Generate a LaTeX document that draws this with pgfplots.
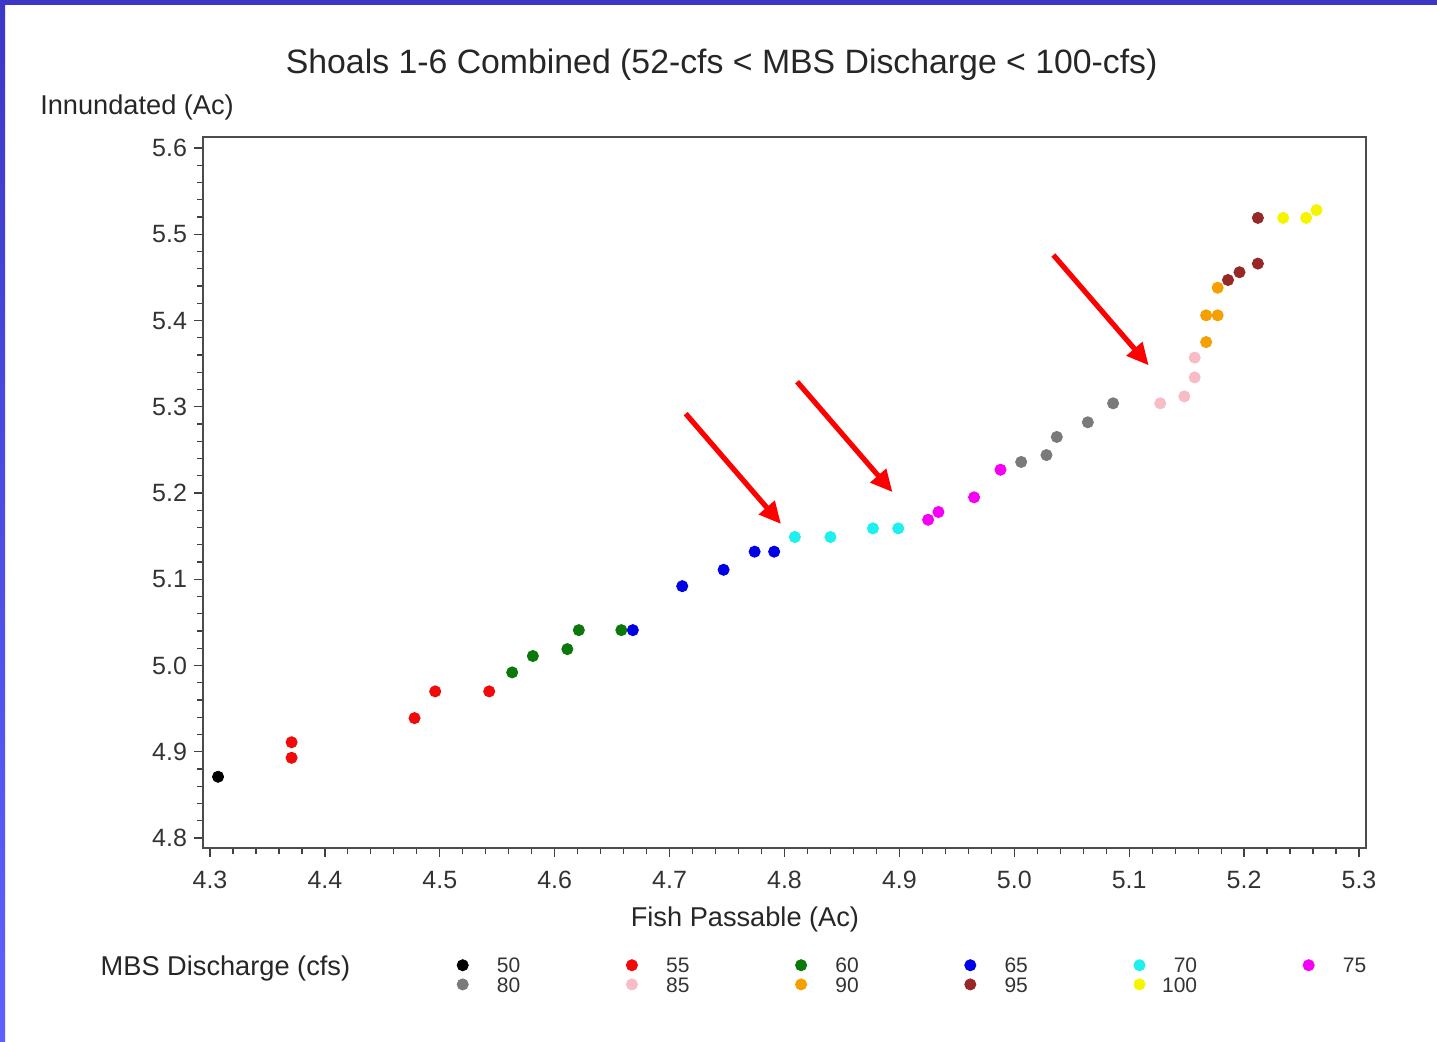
\documentclass[border=0pt]{standalone}
\usepackage{pgfplots}
\pgfplotsset{compat=1.18}
\usepackage{fontspec}
\setmainfont{Liberation Sans}
\usetikzlibrary{arrows.meta}

\definecolor{c50}{HTML}{000000}
\definecolor{c55}{HTML}{F00A0A}
\definecolor{c60}{HTML}{0A780A}
\definecolor{c65}{HTML}{0000E6}
\definecolor{c70}{HTML}{1EF0F0}
\definecolor{c75}{HTML}{F500F5}
\definecolor{c80}{HTML}{7A7A7A}
\definecolor{c85}{HTML}{F7BCC6}
\definecolor{c90}{HTML}{F5A000}
\definecolor{c95}{HTML}{962828}
\definecolor{c100}{HTML}{F5F500}
\definecolor{frameblue}{HTML}{3B38C8}

\pgfplotsset{dot/.style={only marks, mark=*, mark size=2.8pt, color=#1, mark options={solid, draw=#1, fill=#1}}}

\begin{document}
\begin{tikzpicture}
% whole slide area, 1 px = 0.5pt
\path[use as bounding box] (0,0) rectangle (718.5pt,520.5pt);
\fill[frameblue] (0,518pt) rectangle (718.5pt,520.5pt);
\shade[top color=frameblue, bottom color={rgb,255:red,96;green,96;blue,255}] (0,0) rectangle (2.5pt,520.5pt);

\begin{axis}[
    at={(101.5pt,96.5pt)}, anchor=south west,
    scale only axis,
    width=581.5pt, height=355.5pt,
    clip=false,
    xmin=4.2939, xmax=5.3061,
    ymin=4.7884, ymax=5.6128,
    xtick={4.3,4.4,...,5.31},
    ytick={4.8,4.9,...,5.61},
    minor tick num=4,
    tick align=outside,
    major tick length=4.5pt,
    minor tick length=3pt,
    tick style={color=black!75, line width=0.6pt},
    axis line style={black!70, line width=0.6pt},
    xtick pos=bottom, ytick pos=left,
    font=\fontsize{12.5}{14}\selectfont,
    ticklabel style={text=black!80},
    xticklabel style={yshift=-3.5pt},
    /pgf/number format/assume math mode=true,
    /pgf/number format/fixed,
    /pgf/number format/fixed zerofill,
    /pgf/number format/precision=1,
    title={Shoals 1-6 Combined (52-cfs < MBS Discharge < 100-cfs)},
    title style={at={(axis description cs:0.446,1.085)}, anchor=center, font=\fontsize{16.9}{19}\selectfont, text=black!85},
    xlabel={Fish Passable (Ac)},
    xlabel style={at={(axis description cs:0.466,-0.101)}, anchor=center, font=\fontsize{13.6}{15}\selectfont, text=black!85},
    ylabel={Innundated (Ac)},
    ylabel style={at={(axis description cs:-0.146,1.042)}, anchor=west, rotate=-90, font=\fontsize{13.6}{15}\selectfont, text=black!85},
    legend columns=6,
    legend style={draw=none, fill=none,
        at={(axis description cs:0.213,-0.148)}, anchor=north west,
        font=\fontsize{10.5}{10.5}\selectfont,
        nodes={inner sep=0pt, text height=7.6pt, text depth=0pt, text=black!80},
        row sep=2pt,
        /tikz/every even column/.append style={column sep=53pt}},
    legend image code/.code={\draw[mark repeat=2,mark phase=2,#1] plot coordinates {(0pt,0pt)(4pt,0pt)(8pt,0pt)};},
]
\addplot[dot=c50] coordinates {(4.307,4.871)};
\addlegendentry{\makebox[26pt][r]{50}}
\addplot[dot=c55] coordinates {
    (4.371,4.911) (4.371,4.893) (4.478,4.939) (4.496,4.970) (4.543,4.970)};
\addlegendentry{\makebox[26pt][r]{55}}
\addplot[dot=c60] coordinates {
    (4.563,4.992) (4.581,5.011) (4.611,5.019) (4.621,5.041) (4.658,5.041)};
\addlegendentry{\makebox[26pt][r]{60}}
\addplot[dot=c65] coordinates {
    (4.668,5.041) (4.711,5.092) (4.747,5.111) (4.774,5.132) (4.791,5.132)};
\addlegendentry{\makebox[26pt][r]{65}}
\addplot[dot=c70] coordinates {
    (4.809,5.149) (4.840,5.149) (4.877,5.159) (4.899,5.159)};
\addlegendentry{\makebox[26pt][r]{70}}
\addplot[dot=c75] coordinates {
    (4.925,5.169) (4.934,5.178) (4.965,5.195) (4.988,5.227)};
\addlegendentry{\makebox[26pt][r]{75}}
\addplot[dot=c80] coordinates {
    (5.006,5.236) (5.028,5.244) (5.037,5.265) (5.064,5.282) (5.086,5.304)};
\addlegendentry{\makebox[26pt][r]{80}}
\addplot[dot=c85] coordinates {
    (5.127,5.304) (5.148,5.312) (5.157,5.334) (5.157,5.357)};
\addlegendentry{\makebox[26pt][r]{85}}
\addplot[dot=c90] coordinates {
    (5.167,5.375) (5.167,5.406) (5.177,5.406) (5.177,5.438)};
\addlegendentry{\makebox[26pt][r]{90}}
\addplot[dot=c95] coordinates {
    (5.186,5.447) (5.196,5.456) (5.212,5.466) (5.212,5.519)};
\addlegendentry{\makebox[26pt][r]{95}}
\addplot[dot=c100] coordinates {
    (5.234,5.519) (5.254,5.519) (5.263,5.528)};
\addlegendentry{\makebox[26pt][r]{100}}

% annotation arrows
\draw[red, line width=2.6pt, -{Triangle[length=11pt, width=10pt]}] (axis cs:4.714,5.292) -- (axis cs:4.797,5.164);
\draw[red, line width=2.6pt, -{Triangle[length=11pt, width=10pt]}] (axis cs:4.811,5.329) -- (axis cs:4.894,5.201);
\draw[red, line width=2.6pt, -{Triangle[length=11pt, width=10pt]}] (axis cs:5.034,5.476) -- (axis cs:5.117,5.348);

\node[anchor=west, font=\fontsize{13.6}{15}\selectfont, text=black!85] at (axis description cs:-0.094,-0.169) {MBS Discharge (cfs)};
\end{axis}
\end{tikzpicture}
\end{document}
